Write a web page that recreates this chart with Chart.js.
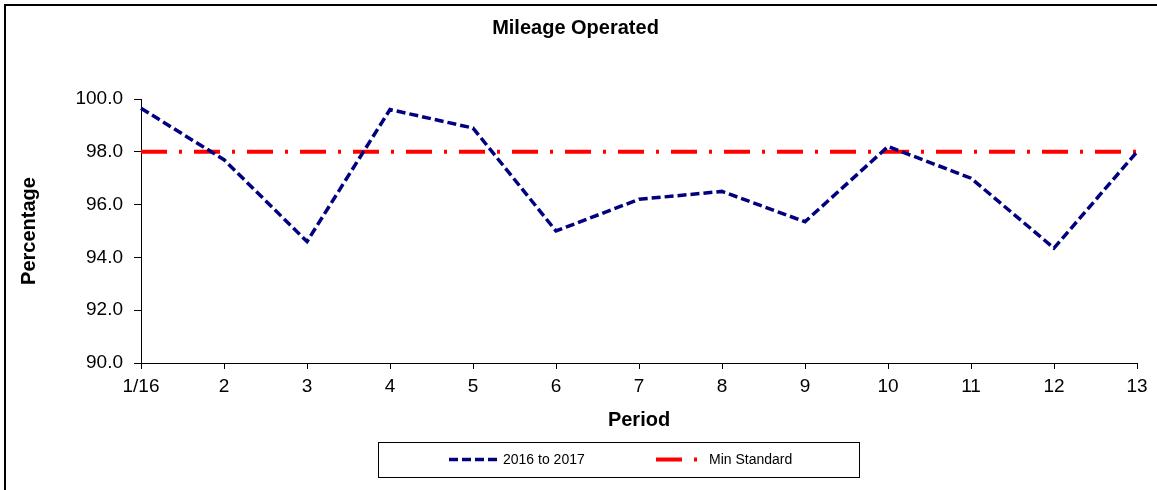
<!DOCTYPE html>
<html>
<head>
<meta charset="utf-8">
<title>Mileage Operated</title>
<script src="https://cdn.jsdelivr.net/npm/chart.js@4.4.1/dist/chart.umd.min.js"></script>
<style>
  html, body { margin: 0; padding: 0; background: #fff; }
  canvas { display: block; }
</style>
</head>
<body>
<canvas id="myChart" width="1157" height="490"></canvas>
<script>
Chart.defaults.font.family = "'Liberation Sans', Arial, Helvetica, sans-serif";
Chart.defaults.color = '#000';

var periodLabels = ['1/16', '2', '3', '4', '5', '6', '7', '8', '9', '10', '11', '12', '13'];
var mileageValues = [99.65, 97.7, 94.6, 99.6, 98.9, 95.0, 96.2, 96.5, 95.35, 98.2, 97.0, 94.35, 98.0];
var minStandardValues = [98, 98, 98, 98, 98, 98, 98, 98, 98, 98, 98, 98, 98];
var seriesNames = ['2016 to 2017', 'Min Standard'];

// frame round the whole chart (only top and left edges are in view)
var framePlugin = {
    id: 'frame',
    beforeDraw: function (chart) {
        var c = chart.ctx;
        c.save();
        c.fillStyle = '#fff';
        c.fillRect(0, 0, chart.width, chart.height);
        c.strokeStyle = '#000';
        c.lineWidth = 2;
        c.strokeRect(5, 5, chart.width + 10, chart.height + 10);
        c.restore();
    }
};

// boxed legend under the x axis title, like the spreadsheet one
var boxLegendPlugin = {
    id: 'boxLegend',
    afterDraw: function (chart) {
        var c = chart.ctx;
        var sets = chart.data.datasets;
        var samples = [
            { x1: 449, x2: 498, tx: 503 },
            { x1: 656, x2: 700, tx: 709 }
        ];
        var y = 459.5;
        c.save();
        c.strokeStyle = '#000';
        c.lineWidth = 1;
        c.strokeRect(378.5, 442.5, 481, 35);
        c.font = "14px 'Liberation Sans', Arial, sans-serif";
        c.textBaseline = 'middle';
        c.textAlign = 'left';
        for (var i = 0; i < sets.length; i++) {
            var s = samples[i];
            c.beginPath();
            c.strokeStyle = sets[i].borderColor;
            c.lineWidth = sets[i].borderWidth;
            c.setLineDash(sets[i].borderDash || []);
            c.moveTo(s.x1, y);
            c.lineTo(s.x2, y);
            c.stroke();
            c.setLineDash([]);
            c.fillStyle = '#000';
            c.fillText(sets[i].label, s.tx, y + 1);
        }
        c.restore();
    }
};

var ctx = document.getElementById('myChart').getContext('2d');
var myChart = new Chart(ctx, {
    type: 'line',
    data: {
        labels: periodLabels,
        datasets: [{
            label: seriesNames[0],
            data: mileageValues,
            borderColor: '#000080',
            borderWidth: 3.5,
            borderDash: [9, 4],
            pointRadius: 0,
            fill: false,
            tension: 0
        }, {
            label: seriesNames[1],
            data: minStandardValues,
            borderColor: '#ff0000',
            borderWidth: 4,
            borderDash: [26, 12, 3, 12],
            borderCapStyle: 'butt',
            pointRadius: 0,
            fill: false,
            tension: 0
        }]
    },
    options: {
        responsive: false,
        animation: false,
        layout: {
            padding: { left: 14, right: 20, top: 0, bottom: 0 }
        },
        plugins: {
            legend: { display: false },
            tooltip: { enabled: false },
            title: {
                display: true,
                text: 'Mileage Operated',
                font: { size: 20, weight: 'bold' },
                color: '#000',
                padding: { top: 16, bottom: 59 }
            }
        },
        scales: {
            x: {
                type: 'category',
                offset: false,
                afterFit: function (scale) { scale.height = 127; },
                grid: {
                    display: true,
                    drawOnChartArea: false,
                    drawTicks: true,
                    tickLength: 6,
                    color: '#000',
                    offset: false
                },
                border: { display: true, color: '#000', width: 1 },
                ticks: {
                    color: '#000',
                    font: { size: 19 },
                    padding: 6,
                    maxRotation: 0,
                    autoSkip: false
                },
                title: {
                    display: true,
                    text: 'Period',
                    color: '#000',
                    font: { size: 20, weight: 'bold' },
                    padding: { top: 0, bottom: 58 }
                }
            },
            y: {
                min: 90,
                max: 100,
                afterFit: function (scale) { scale.width = 127; },
                grid: {
                    display: true,
                    drawOnChartArea: false,
                    drawTicks: true,
                    tickLength: 7,
                    color: '#000'
                },
                border: { display: true, color: '#000', width: 1 },
                ticks: {
                    stepSize: 2,
                    color: '#000',
                    font: { size: 19 },
                    padding: 11,
                    callback: function (value) { return Number(value).toFixed(1); }
                },
                title: {
                    display: true,
                    text: 'Percentage',
                    color: '#000',
                    font: { size: 20, weight: 'bold' },
                    padding: { top: 3, bottom: 0 }
                }
            }
        }
    },
    plugins: [framePlugin, boxLegendPlugin]
});
</script>
</body>
</html>
